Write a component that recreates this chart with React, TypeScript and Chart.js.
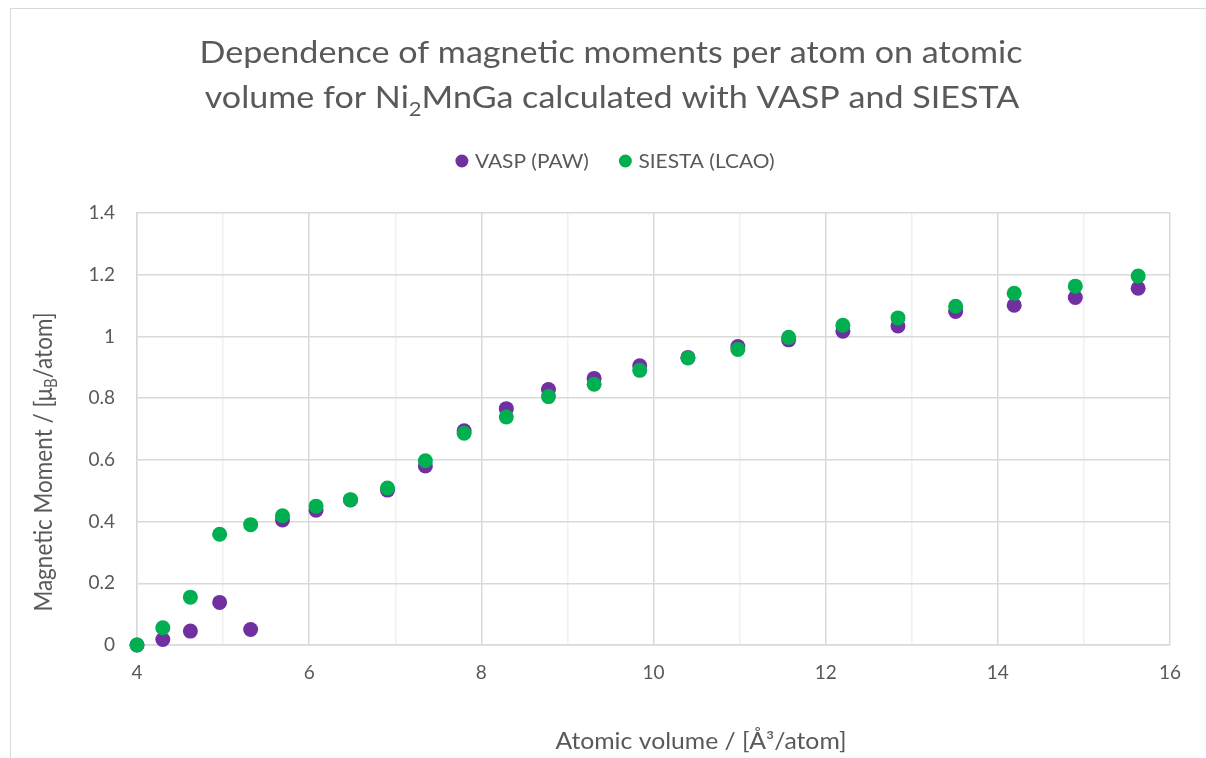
import React, { useEffect, useRef } from "react";
import { Chart, registerables } from "chart.js";

Chart.register(...registerables);

const volumes = [4.0, 4.3, 4.62, 4.96, 5.32, 5.69, 6.08, 6.48, 6.91, 7.35, 7.8, 8.29, 8.78, 9.31, 9.84, 10.4, 10.98, 11.57, 12.2, 12.84, 13.51, 14.19, 14.9, 15.63];
const vaspMoments = [0, 0.018, 0.045, 0.138, 0.05, 0.405, 0.437, 0.47, 0.502, 0.58, 0.694, 0.766, 0.828, 0.864, 0.905, 0.932, 0.967, 0.989, 1.017, 1.034, 1.081, 1.101, 1.126, 1.156];
const siestaMoments = [0, 0.056, 0.155, 0.359, 0.39, 0.419, 0.45, 0.471, 0.509, 0.597, 0.686, 0.739, 0.805, 0.845, 0.89, 0.93, 0.958, 0.997, 1.036, 1.06, 1.098, 1.14, 1.163, 1.196];

const seriesNames = ["VASP (PAW)", "SIESTA (LCAO)"];
const seriesColors = ["#7030A0", "#00B050"];
const titleLine1 = "Dependence of magnetic moments per atom on atomic";
const titleLine2 = ["volume for Ni", "2", "MnGa calculated with VASP and SIESTA"];
const yTitle = ["Magnetic Moment / [μ", "B", "/atom]"];
const xTitle = "Atomic volume / [Å³/atom]";

const FONT = "Lato, 'Open Sans', sans-serif";
const TEXT = "#595959";
const SX = 1.1;

const textPlugin = {
  id: "textPlugin",
  afterDraw(chart: any) {
    const ctx = chart.ctx;
    ctx.save();
    ctx.fillStyle = TEXT;
    ctx.textBaseline = "alphabetic";

    // Title (horizontally widened to match reference font)
    ctx.save();
    ctx.translate(600, 0);
    ctx.scale(SX, 1);
    const big = `400 31px ${FONT}`;
    const small = `400 20px ${FONT}`;
    ctx.font = big;
    ctx.textAlign = "center";
    ctx.fillText(titleLine1, 0, 54);
    ctx.textAlign = "left";
    ctx.font = big;
    const w1 = ctx.measureText(titleLine2[0]).width;
    const w3 = ctx.measureText(titleLine2[2]).width;
    ctx.font = small;
    const w2 = ctx.measureText(titleLine2[1]).width;
    let x = 1 / SX - (w1 + w2 + w3) / 2;
    ctx.font = big;
    ctx.fillText(titleLine2[0], x, 99);
    x += w1;
    ctx.font = small;
    ctx.fillText(titleLine2[1], x, 107);
    x += w2;
    ctx.font = big;
    ctx.fillText(titleLine2[2], x, 99);
    ctx.restore();

    // Legend
    ctx.font = `19px ${FONT}`;
    ctx.textAlign = "left";
    ctx.textBaseline = "middle";
    const tw = seriesNames.map((n) => ctx.measureText(n).width * SX);
    const markerToText = 13;
    const gap = 30;
    const total = 6.5 + markerToText + tw[0] + gap + 6.5 + markerToText + tw[1];
    let lx = 604 - total / 2;
    for (let i = 0; i < 2; i++) {
      const cx = lx + 6.5;
      ctx.fillStyle = seriesColors[i];
      ctx.beginPath();
      ctx.arc(cx, 152, 6.5, 0, Math.PI * 2);
      ctx.fill();
      ctx.fillStyle = TEXT;
      ctx.save();
      ctx.translate(cx + markerToText, 153);
      ctx.scale(SX, 1);
      ctx.fillText(seriesNames[i], 0, 0);
      ctx.restore();
      lx = cx + markerToText + tw[i] + gap;
    }

    // X axis title
    ctx.textBaseline = "alphabetic";
    ctx.save();
    ctx.translate(690, 740);
    ctx.scale(SX, 1);
    ctx.font = `22.5px ${FONT}`;
    ctx.textAlign = "center";
    ctx.fillText(xTitle, 0, 0);
    ctx.restore();

    // Y axis title rotated with subscript
    ctx.translate(32, 453);
    ctx.rotate(-Math.PI / 2);
    ctx.scale(1, SX);
    ctx.textAlign = "left";
    const yb = `22.5px ${FONT}`;
    const ys = `15px ${FONT}`;
    ctx.font = yb;
    const a = ctx.measureText(yTitle[0]).width;
    const c = ctx.measureText(yTitle[2]).width;
    ctx.font = ys;
    const b = ctx.measureText(yTitle[1]).width;
    let yx = -(a + b + c) / 2;
    ctx.font = yb;
    ctx.fillText(yTitle[0], yx, 8);
    yx += a;
    ctx.font = ys;
    ctx.fillText(yTitle[1], yx, 13);
    yx += b;
    ctx.font = yb;
    ctx.fillText(yTitle[2], yx, 8);
    ctx.restore();
  },
};

export default function App() {
  const ref = useRef<HTMLCanvasElement>(null);
  useEffect(() => {
    if (!ref.current) return;
    const toPts = (ys: number[]) => volumes.map((v, i) => ({ x: v, y: ys[i] }));
    const chart = new Chart(ref.current, {
      type: "scatter",
      data: {
        datasets: [
          {
            label: seriesNames[0],
            data: toPts(vaspMoments),
            backgroundColor: seriesColors[0],
            borderColor: seriesColors[0],
            pointRadius: 7.5,
            pointBorderWidth: 0,
            clip: false,
            order: 1,
          },
          {
            label: seriesNames[1],
            data: toPts(siestaMoments),
            backgroundColor: seriesColors[1],
            borderColor: seriesColors[1],
            pointRadius: 7.5,
            pointBorderWidth: 0,
            clip: false,
            order: 0,
          },
        ],
      },
      options: {
        responsive: false,
        animation: false,
        layout: { padding: { top: 204, right: 36, left: 0, bottom: 0 } },
        plugins: {
          legend: { display: false },
          title: { display: false },
          tooltip: { enabled: false },
        },
        scales: {
          x: {
            type: "linear",
            min: 4,
            max: 16,
            afterFit: (s: any) => {
              s.height = 113;
            },
            ticks: {
              stepSize: 1,
              autoSkip: false,
              maxRotation: 0,
              padding: 16,
              color: TEXT,
              font: { family: FONT, size: 19 },
              callback: (v: any) => (Number(v) % 2 === 0 ? String(v) : ""),
            },
            grid: {
              drawTicks: false,
              lineWidth: 1.5,
              color: (c: any) => (c.tick && Math.round(c.tick.value) % 2 !== 0 ? "#f0f0f0" : "#d9d9d9"),
            },
            border: { color: "#d9d9d9", width: 1.5 },
          },
          y: {
            type: "linear",
            min: 0,
            max: 1.4,
            afterFit: (s: any) => {
              s.width = 126;
            },
            ticks: {
              stepSize: 0.2,
              padding: 22,
              color: TEXT,
              font: { family: FONT, size: 19 },
              callback: (v: any) => String(Math.round(Number(v) * 10) / 10),
            },
            grid: { drawTicks: false, lineWidth: 1.5, color: "#d9d9d9" },
            border: { color: "#d9d9d9", width: 1.5 },
          },
        },
      },
      plugins: [textPlugin],
    });
    return () => chart.destroy();
  }, []);

  return (
    <div
      style={{
        position: "fixed",
        left: 10,
        top: 8,
        width: 1196,
        height: 750,
        borderLeft: "1px solid #d9d9d9",
        borderTop: "1px solid #d9d9d9",
        background: "#fff",
        boxSizing: "border-box",
      }}
    >
      <canvas ref={ref} width={1195} height={749} style={{ display: "block" }} />
    </div>
  );
}
